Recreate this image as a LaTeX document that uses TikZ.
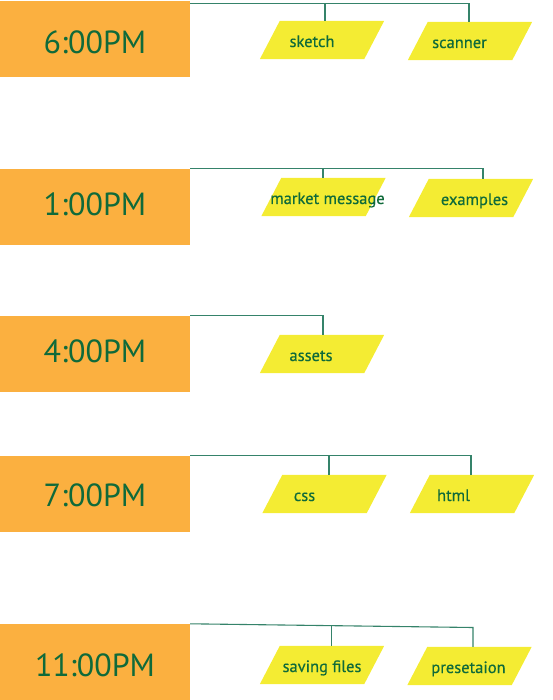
\documentclass[tikz,border=0pt]{standalone}
\usepackage{fontspec}
\setmainfont{PT Sans}
\newfontfamily\lblfont[FakeBold=0.4]{PT Sans}
\usetikzlibrary{calc,backgrounds}
\definecolor{boxorange}{HTML}{FBB040}
\definecolor{parayellow}{HTML}{F4EC33}
\definecolor{txtgreen}{HTML}{0F6A3A}
\definecolor{linegreen}{HTML}{35836A}
\newcommand{\sh}[2]{\makebox[60pt]{\hspace*{#1}#2}}
\begin{document}
\begin{tikzpicture}[x=1pt,y=-1pt,
  timebox/.style={rectangle,fill=boxorange,minimum width=190pt,minimum height=76pt,
    inner sep=0pt,text=txtgreen,font=\fontsize{32}{32}\selectfont,text height=22pt,text depth=0pt},
  parabox/.style={rectangle,minimum width=104pt,minimum height=38pt,
    inner sep=0pt,text=txtgreen,font=\lblfont\fontsize{16.5}{17}\selectfont,text height=14pt,text depth=0pt,
    append after command={\pgfextra{\begin{pgfonlayer}{background}
      \fill[parayellow] ([xshift=-10pt]\tikzlastnode.south west) -- ([xshift=-10pt]\tikzlastnode.south east)
        -- ([xshift=10pt]\tikzlastnode.north east) -- ([xshift=10pt]\tikzlastnode.north west) -- cycle;
      \end{pgfonlayer}}}},
  conn/.style={draw=linegreen,line width=1.1pt}]
\useasboundingbox (0,0) rectangle (552,700);
% row 1
\node[timebox] (t1) at (95,39) {\raisebox{-3.8pt}{6:00PM}};
\node[parabox] (p1a) at (322,40) {\sh{-20pt}{sketch}};
\node[parabox] (p1b) at (470,41) {\sh{-21pt}{scanner}};
\coordinate (j1) at ([yshift=-2.3pt]t1.north east);
\draw[conn] (j1) -| ([xshift=-1pt]p1b.north);
\draw[conn] ([xshift=3pt]p1a.north) -- ([xshift=3pt]p1a.north |- j1);
% row 2
\node[timebox] (t2) at (95,207) {\raisebox{2.5pt}{1:00PM}};
\node[parabox] (p2a) at (323.5,197) {\sh{8pt}{market message}};
\node[parabox] (p2b) at (471,198) {\sh{7pt}{examples}};
\draw[conn] (t2.north east) -| ([xshift=12pt]p2b.north);
\draw[conn] ([xshift=-0.5pt]p2a.north) -- ([xshift=-0.5pt]p2a.north |- t2.north east);
% row 3
\node[timebox] (t3) at (95,354) {\raisebox{2.5pt}{4:00PM}};
\node[parabox] (p3a) at (322,354) {\sh{-22pt}{assets}};
\draw[conn] (t3.north east) -| ([xshift=1pt]p3a.north);
% row 4
\node[timebox] (t4) at (95,494) {\raisebox{-1.3pt}{7:00PM}};
\node[parabox] (p4a) at (324.5,494) {\sh{-40pt}{css}};
\node[parabox] (p4b) at (472,494) {\sh{-37pt}{html}};
\draw[conn] (t4.north east) -| ([xshift=-1pt]p4b.north);
\draw[conn] ([xshift=4.5pt]p4a.north) -- ([xshift=4.5pt]p4a.north |- t4.north east);
% row 5
\node[timebox] (t5) at (95,662) {\raisebox{-3.5pt}{11:00PM}};
\node[parabox] (p5a) at (322,665) {\sh{0pt}{saving files}};
\node[parabox] (p5b) at (469.5,666) {\sh{-2pt}{presetaion}};
\coordinate (k5) at (473,627.5);
\coordinate (m5) at ($(t5.north east)!0.5!(k5)$);
\draw[conn] (t5.north east) -- (k5) -- (k5 |- p5b.north);
\draw[conn] (m5) -- (m5 |- p5a.north);
\end{tikzpicture}
\end{document}
